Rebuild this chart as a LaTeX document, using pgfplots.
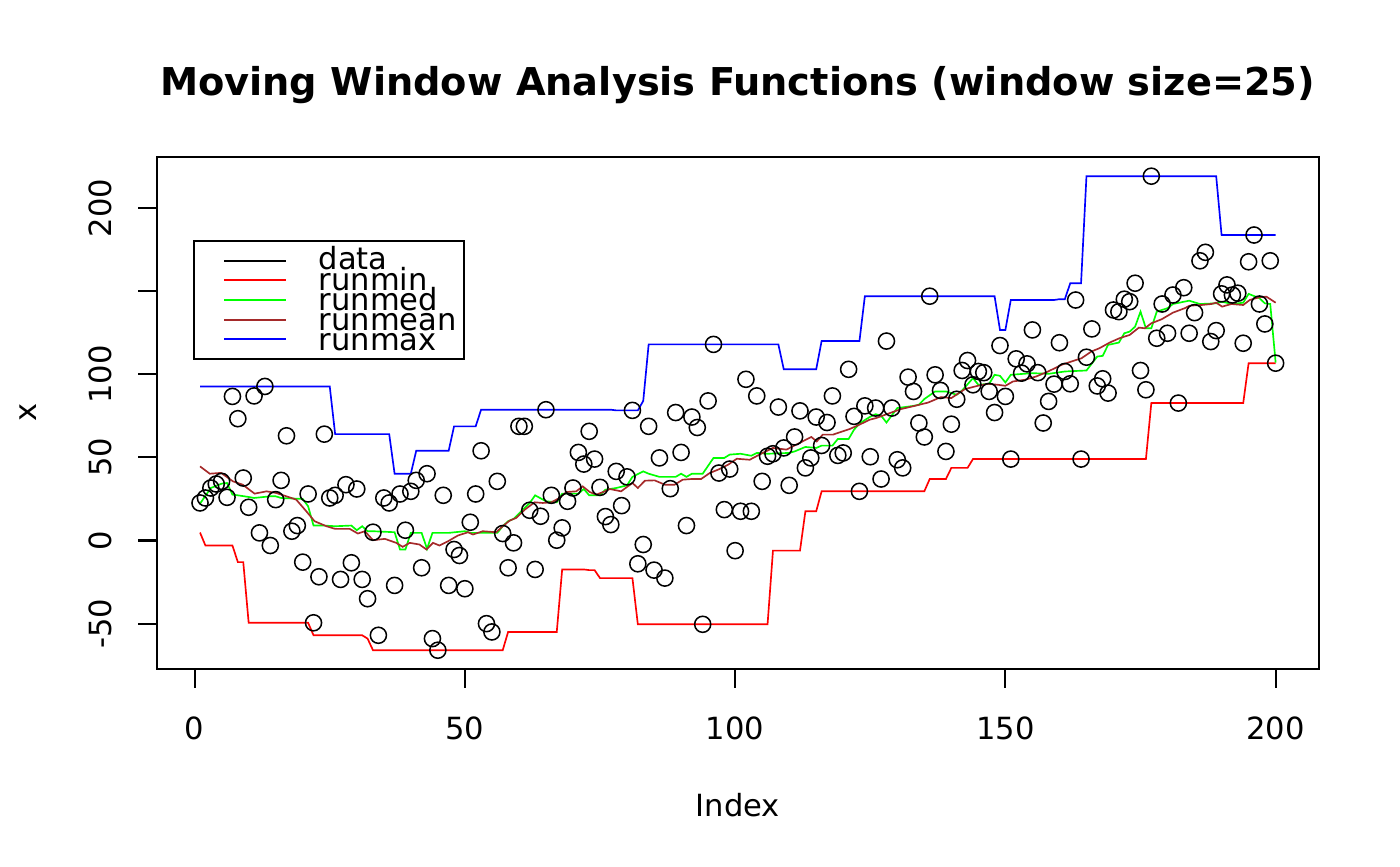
\documentclass[border=0pt]{standalone}
\usepackage{fontspec}
\setmainfont{DejaVu Sans}
\usepackage{pgfplots}
\pgfplotsset{compat=1.18}
\definecolor{rbrown}{RGB}{165,42,42}

\begin{document}
\begin{tikzpicture}[font=\fontsize{11}{13}\selectfont]
\begin{axis}[
  at={(0,0)}, anchor=south west,
  scale only axis, width=418.2pt, height=184.3pt,
  xmin=-6.96, xmax=207.96, ymin=-77.3, ymax=230.7,
  xtick=\empty, ytick=\empty,
  axis line style={line width=0.75pt},
  clip=false
]
% data points
\addplot[only marks, mark=o, mark size=2.9pt, mark options={line width=0.55pt}] coordinates {
(1,22.6) (2,25.6) (3,31.6) (4,34) (5,35.6) (6,26) (7,86.7) (8,73.3) (9,37.6) (10,20)
(11,87) (12,4.6) (13,92.7) (14,-3) (15,24.6) (16,36.2) (17,63) (18,5.6) (19,9) (20,-13)
(21,28) (22,-49.5) (23,-21.8) (24,64) (25,25.6) (26,27.2) (27,-23.4) (28,33.6) (29,-13.4) (30,31)
(31,-23.4) (32,-35) (33,5) (34,-57) (35,25.6) (36,22.6) (37,-27) (38,28) (39,6.2) (40,29.6)
(41,36.2) (42,-16.4) (43,40.2) (44,-59) (45,-66) (46,27.2) (47,-27) (48,-5.4) (49,-9) (50,-29)
(51,11) (52,28) (53,54) (54,-50) (55,-55) (56,35.6) (57,4.2) (58,-16.4) (59,-1.4) (60,68.7)
(61,68.7) (62,18.2) (63,-17.4) (64,14.6) (65,78.7) (66,27.2) (67,0.2) (68,7.6) (69,23.6) (70,31.6)
(71,53) (72,46) (73,65.7) (74,49) (75,32) (76,14.4) (77,9.6) (78,41.6) (79,21) (80,38.3)
(81,78.3) (82,-14) (83,-2.4) (84,68.7) (85,-17.8) (86,49.7) (87,-22.6) (88,31.2) (89,77) (90,53)
(91,9) (92,74.3) (93,68) (94,-50.4) (95,84) (96,118) (97,40.6) (98,18.6) (99,43) (100,-6.1)
(101,17.6) (102,97) (103,17.6) (104,87) (105,35.6) (106,50.7) (107,52.2) (108,80.3) (109,55.7) (110,33.2)
(111,62.3) (112,78) (113,43.7) (114,49.7) (115,74.3) (116,57.2) (117,71) (118,87) (119,51.2) (120,52.7)
(121,103) (122,74.7) (123,29.6) (124,81) (125,50.4) (126,79.7) (127,37) (128,120) (129,79.7) (130,48.6)
(131,43.7) (132,98.3) (133,89.7) (134,70.7) (135,62.3) (136,147) (137,99.7) (138,90.3) (139,53.6) (140,70)
(141,85) (142,102.3) (143,108.3) (144,93.7) (145,101.7) (146,101) (147,89.7) (148,77) (149,117.3) (150,86.7)
(151,49) (152,109.3) (153,100.7) (154,106.3) (155,126.7) (156,101) (157,70.7) (158,83.7) (159,94.1) (160,119)
(161,101.7) (162,94.3) (163,144.7) (164,49) (165,110.3) (166,127.3) (167,93) (168,97.3) (169,88.7) (170,138.7)
(171,137.7) (172,145.2) (173,143.7) (174,154.8) (175,102.3) (176,90.7) (177,219.2) (178,121.7) (179,142.3) (180,124.7)
(181,147.7) (182,82.7) (183,152.1) (184,124.7) (185,137.1) (186,168.3) (187,173.4) (188,119.7) (189,126.3) (190,148.4)
(191,153.8) (192,147.7) (193,148.8) (194,118.7) (195,167.7) (196,183.8) (197,142.3) (198,130.3) (199,168.3) (200,106.7)
};
% runmin
\addplot[red, line width=0.6pt] coordinates {
(1,4.8) (2,-3) (7,-3) (8,-13) (9,-13) (10,-49.5) (21,-49.5) (22,-57) (31,-57) (32,-59) (33,-66)
(57,-66) (58,-55) (67,-55) (68,-17.4) (72,-17.4) (73,-17.8) (74,-17.8) (75,-22.6) (81,-22.6) (82,-50.4)
(106,-50.4) (107,-6.1) (112,-6.1) (113,17.6) (115,17.6) (116,29.6) (135,29.6) (136,37) (139,37)
(140,43.7) (143,43.7) (144,49) (176,49) (177,82.7) (194,82.7) (195,106.7) (200,106.7)
};
% runmed
\addplot[green, line width=0.6pt] coordinates {
(1,22.2) (3,31.6) (5,34.2) (6,34.6) (7,27.6) (8,27.2) (10,26.2) (11,25.6) (14,26.6) (15,26.6)
(16,25.6) (20,25) (21,20.6) (22,9) (24,9) (26,8.6) (29,9) (30,6.2) (31,8.6) (32,5.6) (33,5.6)
(37,5) (38,-5.4) (39,-5.4) (40,4.6) (42,4.6) (43,-5) (44,4.6) (47,4.6) (50,5.6) (51,4.6) (56,4.6)
(57,8.6) (58,11.6) (59,13) (62,22.6) (63,27.2) (65,23.6) (67,23) (68,28.2) (71,28.2) (72,31)
(73,27.2) (75,27.2) (76,30.6) (78,31.6) (80,33.2) (81,38.3) (83,41.6) (84,40.2) (86,38.3) (89,38.3)
(90,40.2) (91,38.3) (92,40.2) (94,40.2) (96,49.7) (98,49.7) (99,51.7) (101,52.2) (103,51) (104,52.7)
(106,52.2) (110,52.7) (111,53.6) (113,56.3) (115,55.7) (116,57.1) (118,57.1) (119,61.1) (121,61.1)
(122,66.7) (123,70.3) (124,72.5) (125,74.5) (126,76) (127,75.1) (128,71) (130,79.7) (133,81)
(134,81.7) (135,85.1) (137,89.7) (139,89.7) (141,87.7) (142,90.3) (144,97.7) (145,93.7) (147,94.3)
(148,99.7) (149,99.1) (150,95.1) (151,99.7) (155,100.7) (158,100.3) (161,101.7) (165,102.3)
(167,110.7) (168,111.1) (169,117.7) (171,119.1) (172,124.7) (173,125.7) (174,128.7) (175,137.7)
(176,127.7) (177,127.7) (178,137.7) (180,139.8) (181,142.3) (184,144.3) (186,142.3) (189,142.7)
(190,143.7) (192,142.3) (194,143.1) (195,148.4) (197,145.8) (198,142.7) (199,142.3) (200,107)
};
% runmean
\addplot[rbrown, line width=0.6pt] coordinates {
(1,44.6) (2.8,40.2) (4.9,40.7) (7.1,35.6) (8.9,33.6) (11.1,28.2) (13.3,29.6) (15.1,28.6) (17,26.6)
(18.8,24.6) (20.4,18.6) (22.2,11.6) (24.4,8.6) (26,7) (28.7,7) (30.2,4.2) (31.5,5.6) (33,0.2)
(35.2,1) (37.3,-1.4) (38.5,-3.8) (39.8,-1.4) (41.6,-2.4) (42.9,-5.4) (44.1,-1.4) (45.3,-3)
(46.9,-0.4) (48.7,3) (50.6,5) (51.5,3.6) (53.3,5.6) (55.8,5) (57,8.6) (58.3,12) (59.5,13.6)
(61.1,18.6) (62.9,23) (64.4,22.6) (66,23) (67.5,25.6) (68.8,29.2) (70.6,29.6) (71.8,32.6)
(73.1,29.2) (74.3,27.6) (75.9,29.6) (76.8,31) (78.9,29.6) (81,34.6) (82,31.6) (83.3,36) (85.1,36.2)
(87,33.6) (88.8,33.6) (90.3,36.6) (91.9,37) (93.7,37) (95.3,40.6) (97.1,43) (98.7,45.6) (100.3,49.2)
(102.7,48.6) (105.1,52.7) (107,55.7) (109.5,54.7) (111.3,57.7) (114.1,62.3) (115.1,59.6)
(116.2,63.7) (118.1,63.7) (119.9,65.7) (121.2,67.1) (123,69.7) (124.9,72.7) (126.1,73.7)
(128.3,76.3) (130.7,79.1) (133.2,81) (135.7,83) (138.1,86.3) (140,85.7) (142.5,91.1) (144.9,93.1)
(146.8,94.3) (148.6,93.7) (150,93.1) (151.4,95.7) (153.6,96.7) (155.7,98.7) (157.9,101.7)
(160.4,105.7) (162.2,107.7) (164.1,109.7) (165.9,113.7) (167.4,115.7) (169.3,119.1) (171.1,121.7)
(173,123.7) (174.7,128.1) (175.8,127.7) (177,130.7) (178.9,133.1) (181,137.1) (183.2,139.8)
(184.1,141.3) (186.3,141.7) (188.1,142.3) (189,143.1) (190.1,140.7) (191.8,142.3) (194,141.7)
(195.2,144.7) (197,146.4) (198.3,146.7) (200,143.1)
};
% runmax
\addplot[blue, line width=0.6pt] coordinates {
(1,92.7) (25,92.7) (26,64) (36,64) (37,40.2) (40,40.2) (41,54) (47,54) (48,68.7) (52,68.7)
(53,78.7) (77,78.7) (78,78.3) (82,78.3) (83,84) (84,118) (108,118) (109,103) (115,103) (116,120)
(123,120) (124,147) (148,147) (149,126.7) (150,126.7) (151,144.7) (159,144.7) (160,145.2)
(161,145.2) (162,154.8) (164,154.8) (165,219.2) (189,219.2) (190,183.8) (200,183.8)
};
% R-style ticks and labels
\pgfplotsinvokeforeach{0,50,100,150,200}{
  \draw[line width=0.75pt] (axis cs:#1,-77.3) -- ([yshift=-6.84pt]axis cs:#1,-77.3);
  \node[anchor=base] at ([yshift=-25.2pt]axis cs:#1,-77.3) {#1};
}
\pgfplotsinvokeforeach{-50,0,50,100,150,200}{
  \draw[line width=0.75pt] (axis cs:-6.96,#1) -- ([xshift=-6.84pt]axis cs:-6.96,#1);
}
\pgfplotsinvokeforeach{-50,0,50,100,200}{
  \node[rotate=90, anchor=base] at ([xshift=-16.3pt]axis cs:-6.96,#1) {#1};
}
\end{axis}
% titles
\node[anchor=base, font=\fontsize{13.8}{16}\selectfont\bfseries] at (209pt,206.6pt)
  {Moving Window Analysis Functions (window size=25)};
\node[anchor=base] at (209.1pt,-53pt) {Index};
\node[rotate=90, anchor=base] at (-43.2pt,92.2pt) {x};
% legend
\draw[line width=0.75pt] (13.43pt,111.5pt) rectangle (110.63pt,154.08pt);
\draw[black, line width=0.6pt] (24.23pt,146.88pt) -- (46.44pt,146.88pt);
\draw[red, line width=0.6pt] (24.23pt,139.93pt) -- (46.44pt,139.93pt);
\draw[green, line width=0.6pt] (24.23pt,132.84pt) -- (46.44pt,132.84pt);
\draw[rbrown, line width=0.6pt] (24.23pt,125.75pt) -- (46.44pt,125.75pt);
\draw[blue, line width=0.6pt] (24.23pt,118.69pt) -- (46.44pt,118.69pt);
\node[anchor=base west, inner sep=0pt] at (58.07pt,143.9pt) {data};
\node[anchor=base west, inner sep=0pt] at (58.07pt,136.4pt) {runmin};
\node[anchor=base west, inner sep=0pt] at (58.07pt,129.2pt) {runmed};
\node[anchor=base west, inner sep=0pt] at (58.07pt,121.8pt) {runmean};
\node[anchor=base west, inner sep=0pt] at (58.07pt,114.6pt) {runmax};
\pgfresetboundingbox
\path[use as bounding box] (-56.52pt,-70.92pt) rectangle (447.48pt,240.84pt);
\end{tikzpicture}
\end{document}
